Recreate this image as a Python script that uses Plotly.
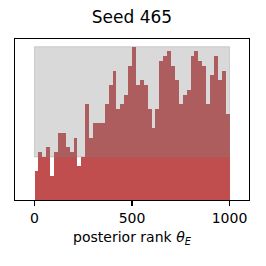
import plotly.graph_objects as go

# ---- data ----
title_text = "Seed 465"
bin_edges_start = 0
bin_width = 20
counts = [6, 10, 9, 11, 5, 10, 14, 14, 11, 10,
          13, 7, 9, 20, 13, 16, 16, 16, 20, 24,
          27, 19, 20, 22, 28, 32, 24, 25, 24, 19,
          15, 19, 29, 30, 31, 28, 25, 20, 22, 23,
          30, 31, 29, 28, 20, 26, 30, 25, 27, 18]
band_lower = 9
band_upper = 32
band_x = [0, 1000]
x_ticks = [0, 500, 1000]
x_tick_labels = ["0", "500", "1000"]
x_range = [-100, 1100]
y_range = [0, 33.6]

centers = [bin_edges_start + bin_width * (i + 0.5) for i in range(len(counts))]
widths = [bin_width] * len(counts)

fig = go.Figure()
fig.add_trace(go.Bar(
    x=centers, y=counts, width=widths,
    marker=dict(color="rgba(178,34,34,0.8)", line=dict(width=0)),
    hoverinfo="skip", showlegend=False,
))

fig.add_shape(type="rect", xref="x", yref="y",
              x0=band_x[0], x1=band_x[1], y0=band_lower, y1=band_upper,
              fillcolor="rgba(128,128,128,0.3)",
              line=dict(color="rgba(128,128,128,0.3)", width=1),
              layer="above")

fig.update_layout(
    width=266, height=266,
    margin=dict(l=15, r=17, t=39, b=66),
    paper_bgcolor="white", plot_bgcolor="white",
    font=dict(family="DejaVu Sans", color="black", size=14),
    bargap=0,
    title=dict(text=title_text, x=0.5, xanchor="center", xref="paper",
               y=1 - 17 / 266, yref="container", yanchor="middle",
               font=dict(size=17, color="black")),
    xaxis=dict(range=x_range, tickvals=x_ticks, ticktext=x_tick_labels,
               ticks="outside", ticklen=5, tickwidth=1.1, tickcolor="black",
               showline=True, linecolor="black", linewidth=1.1, mirror=True,
               showgrid=False, zeroline=False, automargin=False,
               tickfont=dict(size=14),
               title=dict(text="posterior rank <i>θ</i><sub><i>E</i></sub>",
                          font=dict(size=14), standoff=7)),
    yaxis=dict(range=y_range, showticklabels=False, ticks="",
               showline=True, linecolor="black", linewidth=1.1, mirror=True,
               showgrid=False, zeroline=False, automargin=False),
)

fig.write_html("out.html",
               config={"displayModeBar": False, "staticPlot": True},
               post_script="document.body.style.margin='0';")
